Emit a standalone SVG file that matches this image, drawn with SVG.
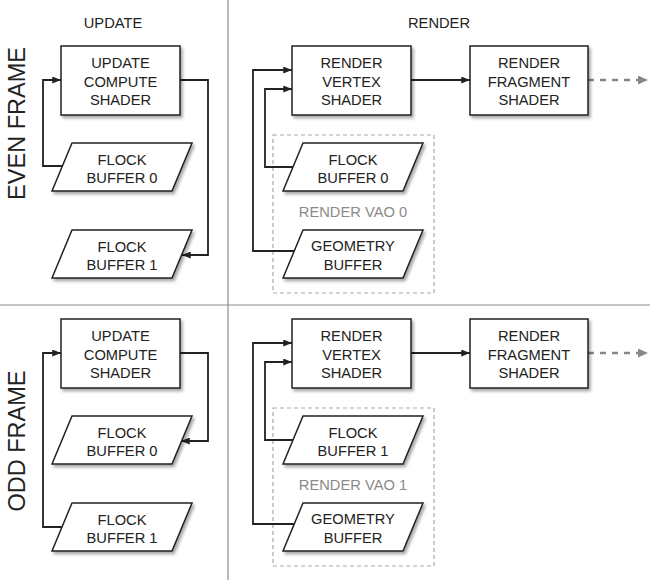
<svg xmlns="http://www.w3.org/2000/svg" width="650" height="580" viewBox="0 0 650 580">
<style>
text{font-family:"Liberation Sans",Arial,sans-serif;fill:#222;text-anchor:middle}
.lbl{font-size:14.7px}
.big{font-size:23.5px}
.vao{font-size:14.7px;fill:#8a8a8a}
.box{fill:#fff;stroke:#222;stroke-width:1.5;filter:url(#sh)}
.sep{stroke:#8c8c8c;stroke-width:1.2;fill:none}
.vaobox{fill:none;stroke:#aaa;stroke-width:1.2;stroke-dasharray:4 3}
.con{fill:none;stroke:#222;stroke-width:1.8;marker-end:url(#ah)}
.dash{fill:none;stroke:#888;stroke-width:2.6;stroke-dasharray:6 6;marker-end:url(#ag)}
</style>
<defs>
<filter id="sh" x="-10%" y="-10%" width="130%" height="140%">
<feDropShadow dx="2" dy="2.5" stdDeviation="1.6" flood-color="#000" flood-opacity="0.35"/>
</filter>
<marker id="ah" viewBox="0 0 10 8" refX="10" refY="4" markerWidth="9" markerHeight="7" orient="auto" markerUnits="userSpaceOnUse">
<path d="M0,0 L10,4 L0,8 z" fill="#222"/>
</marker>
<marker id="ag" viewBox="0 0 10 9" refX="10" refY="4.5" markerWidth="10" markerHeight="9" orient="auto" markerUnits="userSpaceOnUse">
<path d="M0,0 L10,4.5 L0,9 z" fill="#888"/>
</marker>
</defs>
<rect width="650" height="580" fill="#fff"/>
<g id="separators">
<line class="sep" x1="228" y1="0" x2="228" y2="580"/>
<line class="sep" x1="0" y1="305" x2="650" y2="305"/>
</g>
<g id="headers">
<text class="lbl" x="113" y="28">UPDATE</text>
<text class="lbl" x="439" y="28">RENDER</text>
<text class="big" transform="translate(25,123.5) rotate(-90)">EVEN FRAME</text>
<text class="big" transform="translate(25,441) rotate(-90)">ODD FRAME</text>
</g>
<g id="vao0"><rect class="vaobox" x="273" y="135" width="161" height="158"/><text class="vao" x="353" y="217">RENDER VAO 0</text></g>
<g id="vao1"><rect class="vaobox" x="273" y="408" width="161" height="158"/><text class="vao" x="353" y="490">RENDER VAO 1</text></g>
<g id="connectors">
<path class="con" d="M62,166 H43 V80 H61"/>
<path class="con" d="M180,80 H208 V255 H182"/>
<path class="con" d="M294,251 H253 V70 H292"/>
<path class="con" d="M293,167 H265 V89 H292"/>
<path class="con" d="M411,80 H470"/>
<path class="dash" d="M588,80 H648"/>
<path class="con" d="M180,353 H208 V441 H181"/>
<path class="con" d="M62,527 H43 V353 H61"/>
<path class="con" d="M294,524 H253 V343 H292"/>
<path class="con" d="M293,440 H265 V362 H292"/>
<path class="con" d="M411,353 H470"/>
<path class="dash" d="M588,353 H648"/>
</g>
<g id="even-update-compute"><rect class="box" x="61" y="46" width="119" height="69"/>
<text class="lbl" x="120.5" y="68">UPDATE</text><text class="lbl" x="120.5" y="87">COMPUTE</text><text class="lbl" x="120.5" y="105">SHADER</text></g>
<g id="even-flock0"><polygon class="box" points="72,143 192,143 172,191 52,191"/>
<text class="lbl" x="122" y="165">FLOCK</text><text class="lbl" x="122" y="183">BUFFER 0</text></g>
<g id="even-flock1"><polygon class="box" points="72,230 192,230 172,278 52,278"/>
<text class="lbl" x="122" y="252">FLOCK</text><text class="lbl" x="122" y="270">BUFFER 1</text></g>
<g id="even-vertex"><rect class="box" x="292" y="46" width="119" height="69"/>
<text class="lbl" x="351.5" y="68">RENDER</text><text class="lbl" x="351.5" y="87">VERTEX</text><text class="lbl" x="351.5" y="105">SHADER</text></g>
<g id="even-fragment"><rect class="box" x="470" y="46" width="118" height="69"/>
<text class="lbl" x="529" y="68">RENDER</text><text class="lbl" x="529" y="87">FRAGMENT</text><text class="lbl" x="529" y="105">SHADER</text></g>
<g id="even-render-flock0"><polygon class="box" points="303,143 423,143 403,191 283,191"/>
<text class="lbl" x="353" y="165">FLOCK</text><text class="lbl" x="353" y="183">BUFFER 0</text></g>
<g id="even-geometry"><polygon class="box" points="303,230 423,230 403,278 283,278"/>
<text class="lbl" x="353" y="251">GEOMETRY</text><text class="lbl" x="353" y="270">BUFFER</text></g>
<g id="odd-update-compute"><rect class="box" x="61" y="319" width="119" height="69"/>
<text class="lbl" x="120.5" y="341">UPDATE</text><text class="lbl" x="120.5" y="360">COMPUTE</text><text class="lbl" x="120.5" y="378">SHADER</text></g>
<g id="odd-flock0"><polygon class="box" points="72,416 192,416 172,464 52,464"/>
<text class="lbl" x="122" y="438">FLOCK</text><text class="lbl" x="122" y="456">BUFFER 0</text></g>
<g id="odd-flock1"><polygon class="box" points="72,503 192,503 172,551 52,551"/>
<text class="lbl" x="122" y="525">FLOCK</text><text class="lbl" x="122" y="543">BUFFER 1</text></g>
<g id="odd-vertex"><rect class="box" x="292" y="319" width="119" height="69"/>
<text class="lbl" x="351.5" y="341">RENDER</text><text class="lbl" x="351.5" y="360">VERTEX</text><text class="lbl" x="351.5" y="378">SHADER</text></g>
<g id="odd-fragment"><rect class="box" x="470" y="319" width="118" height="69"/>
<text class="lbl" x="529" y="341">RENDER</text><text class="lbl" x="529" y="360">FRAGMENT</text><text class="lbl" x="529" y="378">SHADER</text></g>
<g id="odd-render-flock1"><polygon class="box" points="303,416 423,416 403,464 283,464"/>
<text class="lbl" x="353" y="438">FLOCK</text><text class="lbl" x="353" y="456">BUFFER 1</text></g>
<g id="odd-geometry"><polygon class="box" points="303,503 423,503 403,551 283,551"/>
<text class="lbl" x="353" y="524">GEOMETRY</text><text class="lbl" x="353" y="543">BUFFER</text></g>
</svg>
